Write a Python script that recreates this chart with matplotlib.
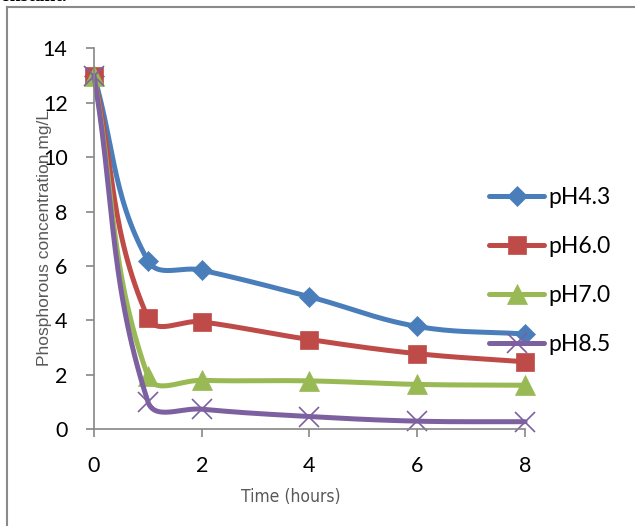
import numpy as np
import matplotlib
matplotlib.use("Agg")
import matplotlib.pyplot as plt
from matplotlib.lines import Line2D

# ---------------------------------------------------------------------------
# Data
# ---------------------------------------------------------------------------
time_h = [0, 1, 2, 4, 6, 8]
ph43 = [13.0, 6.2, 5.85, 4.87, 3.78, 3.5]
ph60 = [13.0, 4.1, 3.95, 3.3, 2.78, 2.48]
ph70 = [13.0, 1.95, 1.8, 1.78, 1.65, 1.62]
ph85 = [13.0, 1.02, 0.74, 0.47, 0.3, 0.28]

labels = ["pH4.3", "pH6.0", "pH7.0", "pH8.5"]
colors = ["#4A7EBB", "#BE4B48", "#98B954", "#7D60A0"]
markers = ["D", "s", "^", "x"]
msizes = [9.8, 13, 14, 14]

# approx. pixels per data unit, used only to shape the smoothing
SX, SY = 53.85, 27.2


def smooth(xs, ys, n=30, k=0.38):
    """Excel-like smoothed line: bezier segments, tangents along the
    neighbour chord, handle length a fraction k of the segment length."""
    p = np.column_stack([np.asarray(xs) * SX, np.asarray(ys) * SY]).astype(float)
    ext = np.vstack([p[0], p, p[-1]])
    t = np.linspace(0, 1, n, endpoint=False)[:, None]
    out = []
    for i in range(len(p) - 1):
        p0, p1, p2, p3 = ext[i], ext[i + 1], ext[i + 2], ext[i + 3]
        seg_len = np.linalg.norm(p2 - p1)
        d1 = p2 - p0
        d2 = p3 - p1
        c1 = p1 + d1 / np.linalg.norm(d1) * seg_len * k
        c2 = p2 - d2 / np.linalg.norm(d2) * seg_len * k
        seg = ((1 - t) ** 3) * p1 + 3 * ((1 - t) ** 2) * t * c1 \
            + 3 * (1 - t) * t ** 2 * c2 + t ** 3 * p2
        out.append(seg)
    out.append(p[-1][None, :])
    out = np.vstack(out)
    marks = [i * n for i in range(len(p))]
    return out[:, 0] / SX, out[:, 1] / SY, marks


fig = plt.figure(figsize=(6.35, 5.26), dpi=100)
ax = fig.add_axes([0.148, 0.1838, 0.6788, 0.7244])

for ys, lab, col, mk, ms in zip([ph43, ph60, ph70, ph85], labels, colors,
                                markers, msizes):
    sx, sy, marks = smooth(time_h, ys)
    ax.plot(sx, sy, color=col, lw=3.6, marker=mk, markevery=marks,
            markersize=ms, markerfacecolor=col, markeredgecolor=col,
            markeredgewidth=1.2 if mk == "x" else 0.5, label=lab,
            clip_on=False, solid_capstyle="round")

ax.set_xlim(0, 8)
ax.set_ylim(0, 14)
ax.set_xticks([0, 2, 4, 6, 8])
ax.set_yticks(range(0, 15, 2))
for s in ["top", "right"]:
    ax.spines[s].set_visible(False)
for s in ["left", "bottom"]:
    ax.spines[s].set_color("#868686")
    ax.spines[s].set_linewidth(1.2)
ax.tick_params(axis="both", direction="out", length=6, width=1.2,
               color="#868686", labelsize=15.5)
ax.tick_params(axis="y", pad=13)
ax.tick_params(axis="x", pad=13)
for lbl in ax.get_xticklabels() + ax.get_yticklabels():
    lbl.set_fontfamily("Lato")

fig.text(45 / 635, 1 - 238 / 526, "Phosphorous concentration mg/L",
         rotation=90, ha="center", va="center", fontsize=12.5,
         color="#595959", family=["Liberation Sans", "DejaVu Sans"])
fig.text(291 / 635, 1 - 497 / 526, "Time (hours)", ha="center",
         va="center", fontsize=12.5, color="#595959",
         family=["DejaVu Sans"], fontstretch="condensed")

leg = ax.legend(loc="upper left", bbox_to_anchor=(489 / 635, 1 - 187 / 526),
                bbox_transform=fig.transFigure, frameon=False,
                prop={"family": "Lato", "size": 16.5}, handlelength=2.4,
                handletextpad=0.2, labelspacing=1.22, borderaxespad=0,
                borderpad=0)

# page border and the clipped text line above the chart
fig.add_artist(Line2D([7 / 635, 7 / 635], [-0.1, 1 - 7 / 526],
                      color="#8a8a8a", lw=1.5, transform=fig.transFigure))
fig.add_artist(Line2D([7 / 635, 1.1], [1 - 7 / 526, 1 - 7 / 526],
                      color="#8a8a8a", lw=1.5, transform=fig.transFigure))
fig.text(0, 1 - 1.2 / 526, "onstant.", ha="left", va="baseline",
         fontsize=14, fontweight="bold", family="Liberation Serif")

fig.savefig("out.png", dpi=100)
